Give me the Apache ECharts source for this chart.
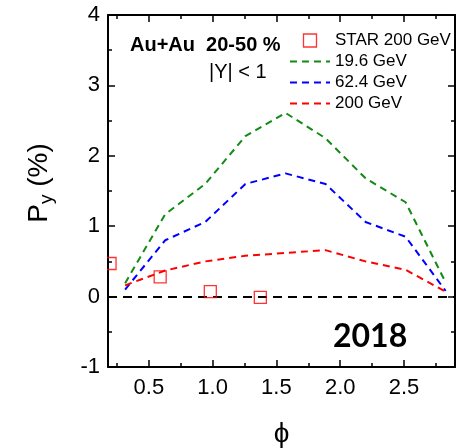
<!DOCTYPE html>
<html>
<head>
<meta charset="utf-8">
<script src="https://cdn.jsdelivr.net/npm/echarts@6/dist/echarts.min.js"></script>
<style>html,body{margin:0;padding:0;background:#fff}#c{width:456px;height:448px}</style>
</head>
<body>
<div id="c"></div>
<script>
// ---- data ----
const phiModel = [0.314, 0.628, 0.942, 1.257, 1.571, 1.885, 2.199, 2.513, 2.827];
const py196 = [0.19, 1.17, 1.60, 2.28, 2.61, 2.25, 1.68, 1.34, 0.20];
const py624 = [0.10, 0.80, 1.06, 1.60, 1.75, 1.60, 1.06, 0.85, 0.08];
const py200 = [0.16, 0.37, 0.50, 0.58, 0.62, 0.66, 0.50, 0.38, 0.07];
const phiStar = [0.196, 0.589, 0.982, 1.374];
const pyStar = [0.47, 0.28, 0.07, -0.01];
const xMajor = [0.5, 1.0, 1.5, 2.0, 2.5];
const xMinor = [0.25, 0.75, 1.25, 1.75, 2.25, 2.75];
const seriesNames = ['STAR 200 GeV', '19.6 GeV', '62.4 GeV', '200 GeV'];

const FONT = 'Liberation Sans';
const pair = (xs, ys) => xs.map((x, i) => [x, ys[i]]);

const chart = echarts.init(document.getElementById('c'), null, {renderer: 'canvas'});
const X0 = 0.18, X1 = 2.9;
const axisLine = {show: true, onZero: false, lineStyle: {color: '#000', width: 2}};
const noLine = {show: false, onZero: false};
const tickMajor = vals => ({show: true, inside: true, length: 7, customValues: vals, lineStyle: {color: '#000', width: 1.5}});
const tickMinor = vals => ({show: true, inside: true, length: 4, customValues: vals, lineStyle: {color: '#000', width: 1.5}});

const xAxes = [
  {type: 'value', min: X0, max: X1, position: 'bottom', axisLine, splitLine: {show: false},
   axisTick: tickMajor(xMajor),
   axisLabel: {customValues: xMajor, formatter: v => v.toFixed(1), fontSize: 22, color: '#000', fontFamily: FONT, margin: 10},
   name: 'ϕ', nameLocation: 'middle', nameGap: 53, nameTextStyle: {fontSize: 28, color: '#000', fontFamily: FONT}},
  {type: 'value', min: X0, max: X1, position: 'bottom', axisLine: noLine, splitLine: {show: false},
   axisTick: tickMinor(xMinor), axisLabel: {show: false}},
  {type: 'value', min: X0, max: X1, position: 'top', axisLine, splitLine: {show: false},
   axisTick: tickMajor(xMajor), axisLabel: {show: false}},
  {type: 'value', min: X0, max: X1, position: 'top', axisLine: noLine, splitLine: {show: false},
   axisTick: tickMinor(xMinor), axisLabel: {show: false}}
];
const yCommon = {type: 'value', min: -1, max: 4, interval: 1, axisLine, splitLine: {show: false},
  axisTick: {show: true, inside: true, length: 7, lineStyle: {color: '#000', width: 1.5}},
  minorTick: {show: true, splitNumber: 2, length: 4, lineStyle: {color: '#000', width: 1.5}},
  minorSplitLine: {show: false}};
const yAxes = [
  Object.assign({}, yCommon, {position: 'left',
    axisLabel: {fontSize: 22, color: '#000', fontFamily: FONT, margin: 8},
    name: '{p|P}{s|y}{p| (%)}', nameLocation: 'middle', nameRotate: 90, nameGap: 52,
    nameTextStyle: {color: '#000', fontFamily: FONT, padding: [0, 0, 0, 16], rich: {
      p: {fontSize: 28, fontFamily: FONT, color: '#000'},
      s: {fontSize: 19, fontFamily: FONT, color: '#000', padding: [14, 0, 0, 0]}
    }}}),
  Object.assign({}, yCommon, {position: 'right', axisLabel: {show: false}})
];

const dashLine = color => ({color, width: 2, type: [7, 5]});
const hiddenSym = {color: 'rgba(0,0,0,0)', borderWidth: 0, opacity: 0};

chart.setOption({
  animation: false,
  grid: {left: 108, right: 1, top: 15, bottom: 81, containLabel: false, outerBoundsMode: 'none'},
  xAxis: xAxes,
  yAxis: yAxes,
  legend: {
    orient: 'vertical', left: 284, top: 27, itemWidth: 40, itemHeight: 13, itemGap: 4,
    textStyle: {fontSize: 17, color: '#000', fontFamily: FONT},
    data: [
      {name: seriesNames[0], icon: 'path://M0,0 M40,13 M13.5,0 h13 v13 h-13 z', itemStyle: {borderWidth: 1.3}},
      {name: seriesNames[1], itemStyle: hiddenSym},
      {name: seriesNames[2], itemStyle: hiddenSym},
      {name: seriesNames[3], itemStyle: hiddenSym}
    ]
  },
  graphic: [
    {type: 'rect', left: 0, top: 250, shape: {width: 107, height: 25}, style: {fill: '#fff'}, z: 50},
    {type: 'text', left: 130, top: 35, style: {text: 'Au+Au  20-50 %', font: 'bold 20px "Liberation Sans"', fill: '#000'}},
    {type: 'text', left: 209, top: 62, style: {text: '|Y| < 1', font: '20px "Liberation Sans"', fill: '#000'}},
    {type: 'text', left: 333, top: 321, style: {text: '2018', font: 'bold 32px Lato', fill: '#000'}}
  ],
  series: [
    {name: seriesNames[0], type: 'scatter', data: pair(phiStar, pyStar), symbol: 'rect', symbolSize: 12,
     itemStyle: {color: 'rgba(255,255,255,0)', borderColor: '#ff0000', borderWidth: 1.3}, z: 5},
    {name: seriesNames[1], type: 'line', data: pair(phiModel, py196), symbol: 'none', showSymbol: false,
     lineStyle: dashLine('#138a13'), itemStyle: {color: '#138a13'}},
    {name: seriesNames[2], type: 'line', data: pair(phiModel, py624), symbol: 'none', showSymbol: false,
     lineStyle: dashLine('#0000ff'), itemStyle: {color: '#0000ff'}},
    {name: seriesNames[3], type: 'line', data: pair(phiModel, py200), symbol: 'none', showSymbol: false,
     lineStyle: dashLine('#ff0000'), itemStyle: {color: '#ff0000'},
     markLine: {silent: true, symbol: 'none', label: {show: false},
       lineStyle: {color: '#000', width: 1.8, type: [9, 6]}, data: [{yAxis: 0}]}}
  ]
});
</script>
</body>
</html>
